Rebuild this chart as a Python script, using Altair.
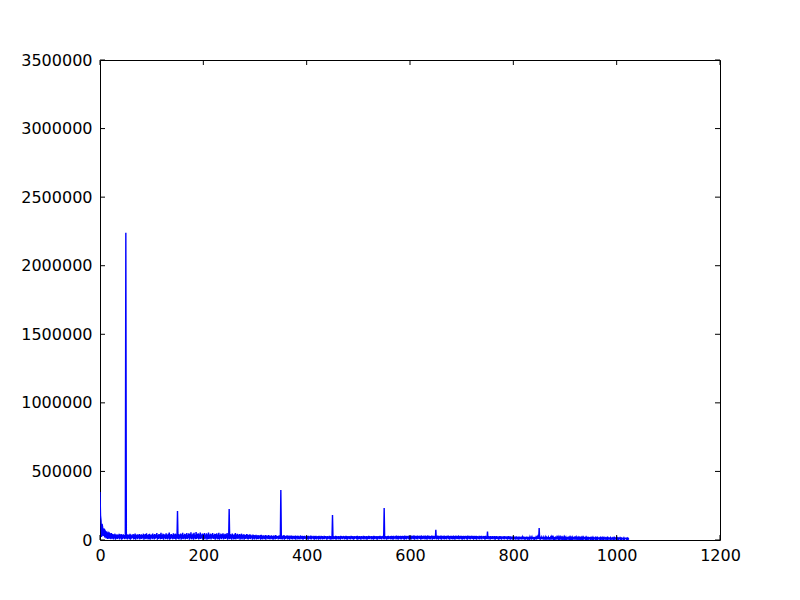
import altair as alt
import pandas as pd

# Spectrum magnitudes (in thousands), index 0..1024
spectrum_k = [
    350,178,140,22,118,96,30,84,72,18,66,58,12,54,49,8,52,45,10,47,41,6,50,38,9,
    44,5,40,12,46,3,38,9,42,7,36,14,45,4,39,11,43,2,37,8,41,13,35,6,44,
    2240,10,38,4,42,12,36,7,45,3,40,9,34,15,43,5,39,8,47,2,36,11,41,6,38,
    13,44,4,37,10,42,7,35,16,46,3,39,9,43,6,48,12,36,5,41,8,45,2,38,14,
    40,6,47,11,37,4,43,9,39,15,50,3,36,8,44,12,41,5,52,7,38,10,46,2,42,
    13,39,6,48,9,37,4,45,11,55,3,40,8,43,14,38,5,49,10,42,7,46,2,40,12,
    211,8,44,5,39,13,47,3,41,9,53,6,38,12,45,4,42,10,50,7,37,15,48,2,43,
    11,56,5,40,9,46,3,52,12,38,6,58,8,43,14,49,4,41,10,55,7,39,13,47,2,
    44,9,51,5,40,12,48,3,42,8,54,6,39,11,46,4,41,15,50,7,38,10,45,2,43,
    12,49,5,40,8,52,3,38,11,46,6,42,14,48,4,39,9,45,7,41,13,50,2,37,10,
    226,6,44,9,40,3,47,12,38,5,42,8,51,4,39,11,45,7,37,14,43,2,40,9,46,
    5,38,12,42,3,40,8,36,11,44,6,39,4,35,10,41,7,37,13,33,2,39,9,36,5,
    34,11,38,4,33,8,36,6,31,12,35,3,37,9,32,5,34,10,30,7,36,2,33,12,31,
    6,35,9,32,4,30,11,34,7,29,3,33,10,31,5,35,8,30,12,28,4,32,9,34,6,
    365,7,33,4,30,10,35,3,31,8,29,12,34,5,30,9,32,2,28,11,33,6,30,4,31,
    10,29,7,32,3,28,12,31,5,30,8,27,4,33,10,29,6,31,2,28,9,30,11,27,5,
    31,8,28,3,30,10,27,6,32,4,29,12,26,7,30,2,28,9,31,5,27,11,29,3,30,
    8,27,5,31,10,28,4,26,9,30,6,28,12,27,3,29,7,26,10,31,5,28,2,27,8,
    182,4,29,9,27,6,30,3,28,11,26,5,29,8,27,2,31,10,28,6,26,12,29,4,27,
    9,30,5,28,2,26,11,29,7,27,4,30,10,28,6,27,3,29,8,26,12,28,5,30,2,
    27,9,28,6,26,3,29,11,27,7,30,4,28,10,26,5,29,2,27,8,31,6,28,12,26,
    4,29,9,27,3,30,7,28,11,26,5,29,2,27,10,28,6,30,8,27,4,29,12,26,7,
    233,5,29,10,27,3,28,8,30,6,27,11,29,4,31,9,28,2,30,7,27,12,29,5,32,
    8,28,3,30,10,29,6,31,4,28,11,30,7,29,2,32,9,28,5,30,12,29,6,33,3,
    30,9,32,5,29,11,31,7,33,3,30,10,28,6,32,4,29,12,31,8,30,2,33,9,29,
    6,31,11,30,4,32,8,29,3,33,10,30,7,31,5,29,12,32,2,30,9,31,6,28,11,
    75,4,30,8,32,2,29,10,31,6,33,3,30,11,28,7,32,5,29,9,31,4,30,12,32,
    6,29,3,31,10,30,7,28,5,32,9,29,2,31,11,30,6,28,8,33,4,29,10,31,7,
    30,3,28,9,31,5,29,12,30,7,28,2,32,10,29,6,30,4,28,11,31,8,29,3,30,
    9,28,6,30,2,29,11,27,7,31,4,28,10,30,5,27,12,29,8,28,3,30,6,27,9,
    62,5,28,10,27,3,29,8,26,6,28,11,27,4,29,2,26,9,28,7,25,12,27,5,28,
    8,26,3,27,10,25,6,28,4,26,11,27,7,25,2,28,9,26,5,27,12,25,6,24,3,
    26,9,25,5,24,11,26,7,23,3,25,10,24,6,22,4,25,12,23,8,24,2,22,9,23,
    6,24,10,22,3,23,8,21,5,24,11,22,7,23,2,21,9,22,4,20,12,23,6,21,8,
    88,3,22,10,21,6,23,4,20,9,22,2,21,11,19,7,22,5,20,8,21,3,19,10,22,
    5,20,9,19,2,21,7,18,11,20,4,19,8,21,6,18,3,20,10,19,5,17,9,20,2,
    19,8,18,5,20,3,17,10,19,6,18,2,17,9,19,4,16,11,18,7,17,3,19,8,16,
    5,18,10,17,2,16,9,18,6,17,4,19,11,16,7,17,3,18,8,15,5,17,12,16,2,
    22,9,16,6,17,3,15,10,16,5,17,8,15,2,16,11,14,7,16,4,15,9,17,6,14,
    3,16,10,15,5,14,8,16,2,15,11,14,6,16,4,13,9,15,7,14,3,16,10,13,5,
    18,8,14,2,13,10,15,6,14,4,13,9,12,5,14,3,12,11,13,7,12,2,13,8,11,
]

x_ticks = [0, 200, 400, 600, 800, 1000, 1200]
y_ticks = [0, 500000, 1000000, 1500000, 2000000, 2500000, 3000000, 3500000]

W, H = 620, 480
TICK = 5
FONT = "DejaVu Sans"

df = pd.DataFrame({"f": list(range(len(spectrum_k))),
                   "mag": [v * 1000 for v in spectrum_k]})
xt = pd.DataFrame({"v": x_ticks})
yt = pd.DataFrame({"v": y_ticks})

xscale = alt.Scale(domain=[0, 1200], nice=False, zero=False)
yscale = alt.Scale(domain=[0, 3500000], nice=False)

xaxis = alt.Axis(values=x_ticks, tickSize=0, labelPadding=7, domain=False,
                 grid=False, labelFlush=False, format="d")
yaxis = alt.Axis(values=y_ticks, tickSize=0, labelPadding=8, domain=False,
                 grid=False, labelFlush=False, format="d")

line = alt.Chart(df).mark_line(color="#0000ff", strokeWidth=1.4, clip=True).encode(
    x=alt.X("f:Q", scale=xscale, title=None, axis=xaxis),
    y=alt.Y("mag:Q", scale=yscale, title=None, axis=yaxis),
)

tick_style = dict(color="black", strokeWidth=1)
xb = alt.Chart(xt).mark_rule(**tick_style).encode(
    x=alt.X("v:Q", scale=xscale, title=None, axis=xaxis),
    y=alt.value(H), y2=alt.value(H - TICK))
xtp = alt.Chart(xt).mark_rule(**tick_style).encode(
    x=alt.X("v:Q", scale=xscale, title=None, axis=xaxis),
    y=alt.value(0), y2=alt.value(TICK))
yl = alt.Chart(yt).mark_rule(**tick_style).encode(
    y=alt.Y("v:Q", scale=yscale, title=None, axis=yaxis),
    x=alt.value(0), x2=alt.value(TICK))
yr = alt.Chart(yt).mark_rule(**tick_style).encode(
    y=alt.Y("v:Q", scale=yscale, title=None, axis=yaxis),
    x=alt.value(W - TICK), x2=alt.value(W))

chart = alt.layer(line, xb, xtp, yl, yr).properties(
    width=W, height=H,
    autosize=alt.AutoSizeParams(type="none"),
    padding={"left": 92, "top": 52, "right": 72, "bottom": 52},
    background="white",
).configure_view(stroke="black", strokeWidth=1).configure_axis(
    labelFontSize=16, labelFont=FONT, labelColor="black"
)

chart.save("out.html", embed_options={"renderer": "svg", "actions": False})
